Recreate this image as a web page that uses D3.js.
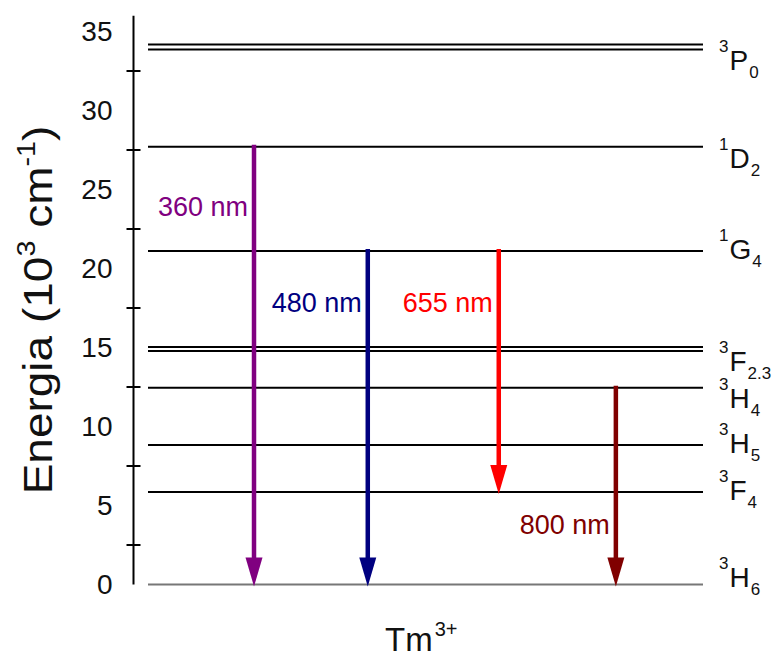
<!DOCTYPE html>
<html>
<head>
<meta charset="utf-8">
<script src="https://cdn.jsdelivr.net/npm/d3@7"></script>
<style>
  body { margin: 0; background: #fff; }
  text { font-family: "Liberation Sans", Arial, sans-serif; }
</style>
</head>
<body>
<svg id="chart" width="774" height="654"></svg>
<script>
// Tm3+ energy levels, in 10^3 cm^-1 (split terms carry two energies)
const levelSpin   = ["3", "3", "3", "3", "3", "1", "1", "3"];
const levelLetter = ["H", "F", "H", "H", "F", "G", "D", "P"];
const levelJ      = ["6", "4", "5", "4", "2.3", "4", "2", "0"];
const levelEnergy = [[0], [5.85], [8.83], [12.45], [14.78, 15.03], [21.1], [27.7], [33.86, 34.18]];

// Radiative transitions: index of upper and lower level
const transitionLabel = ["360 nm", "480 nm", "655 nm", "800 nm"];
const transitionFrom  = [6, 5, 5, 3];
const transitionTo    = [0, 0, 1, 0];

// Axis ticks
const labelTicks = [0, 5, 10, 15, 20, 25, 30, 35];
const minorTicks = [2.5, 7.5, 12.5, 17.5, 22.5, 27.5, 32.5];

// ---- layout & style ----
const transitionX      = [0.191, 0.396, 0.632, 0.843];   // along the level lines (0..1)
const transitionTextAt = [23.3, 17.25, 17.25, 3.2];     // label baseline, energy units
const transitionColor  = ["#800080", "#000080", "#ff0000", "#800000"];
const labelDy = [2, 8, 8, 20, 22, 8, 21, 23];            // term label baseline below its line, px

const svg = d3.select("#chart");
const y = d3.scaleLinear().domain([0, 36]).range([584.5, 15.7]);
const x = d3.scaleLinear().domain([0, 1]).range([148, 703]);
const axisX = 133.5;

// y axis: numbers at the multiples of 5, tick marks in between
const axisG = svg.append("g").attr("transform", `translate(${axisX},0)`);
axisG.call(d3.axisLeft(y).tickValues(labelTicks).tickSize(0).tickPadding(21).tickFormat(d3.format("d")))
  .call(g => g.select(".domain").remove())
  .call(g => g.selectAll("text")
    .attr("font-size", 28).attr("fill", "#111")
    .attr("font-family", "'Liberation Sans', Arial, sans-serif"));
axisG.append("line")
  .attr("x1", 0).attr("x2", 0).attr("y1", y(36)).attr("y2", y(0))
  .attr("stroke", "#000").attr("stroke-width", 2);
axisG.selectAll(".minor").data(minorTicks).join("line")
  .attr("class", "minor")
  .attr("x1", -7).attr("x2", 7)
  .attr("y1", d => y(d)).attr("y2", d => y(d))
  .attr("stroke", "#000").attr("stroke-width", 2);

// energy level lines
const levelLines = levelEnergy.flatMap((es, i) => es.map(e => ({ e, i })));
svg.append("g").selectAll("line").data(levelLines).join("line")
  .attr("x1", x(0)).attr("x2", x(1))
  .attr("y1", d => y(d.e)).attr("y2", d => y(d.e))
  .attr("stroke", d => d.i === 0 ? "#777" : "#000")
  .attr("stroke-width", 2);

// term symbols
const termG = svg.append("g");
levelEnergy.forEach((es, i) => {
  const base = y(d3.mean(es)) + labelDy[i];
  const t = termG.append("text").attr("y", base).attr("x", 719).attr("fill", "#111");
  t.append("tspan").attr("font-size", 17).attr("dy", -18).text(levelSpin[i]);
  t.append("tspan").attr("font-size", 28).attr("dy", 18).attr("dx", 1).text(levelLetter[i]);
  t.append("tspan").attr("font-size", 17).attr("dy", 8).attr("dx", 1).text(levelJ[i]);
});

// transition arrows
const headLen = 29, headHalf = 8.5;
const arrowG = svg.append("g");
transitionLabel.forEach((lab, k) => {
  const ax = x(transitionX[k]);
  const yTop = y(d3.mean(levelEnergy[transitionFrom[k]])) - 2;
  const yTip = y(d3.mean(levelEnergy[transitionTo[k]])) + 2;
  const col = transitionColor[k];
  arrowG.append("line")
    .attr("x1", ax).attr("x2", ax)
    .attr("y1", yTop).attr("y2", yTip - headLen + 4)
    .attr("stroke", col).attr("stroke-width", 4.5);
  arrowG.append("path")
    .attr("d", `M${ax - headHalf},${yTip - headLen}L${ax + headHalf},${yTip - headLen}L${ax},${yTip}Z`)
    .attr("fill", col);
  arrowG.append("text")
    .attr("x", ax - 6).attr("y", y(transitionTextAt[k]))
    .attr("text-anchor", "end")
    .attr("font-family", "'Open Sans', sans-serif")
    .attr("font-size", 27)
    .attr("fill", col)
    .text(lab);
});

// axis titles
const yTitle = svg.append("text")
  .attr("transform", "translate(52,310) rotate(-90) scale(1.15,1)")
  .attr("text-anchor", "middle")
  .attr("font-size", 40).attr("fill", "#111");
yTitle.append("tspan").text("Energia (10");
yTitle.append("tspan").attr("font-size", 25).attr("dy", -17).text("3");
yTitle.append("tspan").attr("dy", 17).text(" cm");
yTitle.append("tspan").attr("font-size", 25).attr("dy", -17).text("-1");
yTitle.append("tspan").attr("dy", 17).text(")");

const xTitle = svg.append("text")
  .attr("x", 385).attr("y", 651)
  .attr("font-size", 33).attr("fill", "#111");
xTitle.append("tspan").text("Tm");
xTitle.append("tspan").attr("font-size", 20).attr("dy", -15).attr("dx", 2).text("3+");
</script>
</body>
</html>
